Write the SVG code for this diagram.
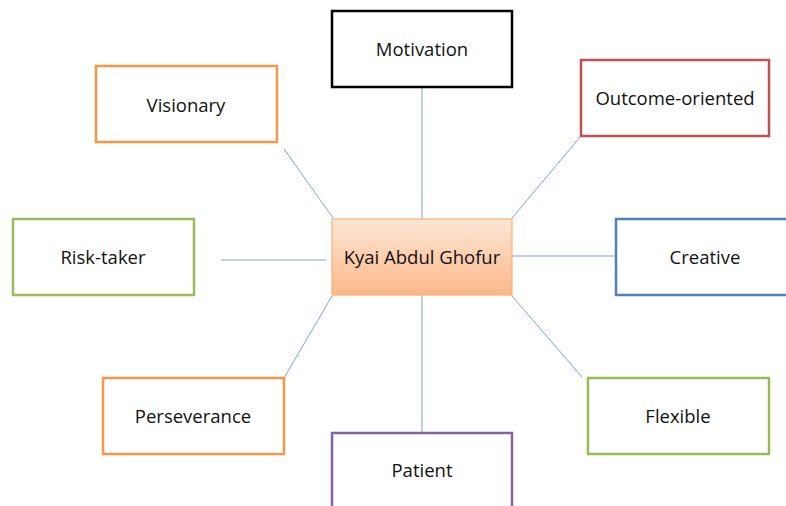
<svg xmlns="http://www.w3.org/2000/svg" width="786" height="506" viewBox="0 0 786 506">
<style>
.box{fill:#fff;stroke-width:2.5}
.lbl{font-family:"Open Sans","Liberation Sans",sans-serif;font-size:18.5px;fill:#111;text-anchor:middle;dominant-baseline:central}
.con line{stroke:#7fa3d6;stroke-width:1}
</style>
<defs>
<linearGradient id="g" x1="0" y1="0" x2="0" y2="1">
<stop offset="0" stop-color="#fde6d6"/>
<stop offset="1" stop-color="#fbb888"/>
</linearGradient>
</defs>
<rect width="786" height="506" fill="#fff"/>
<g id="connectors" class="con">
<line x1="422" y1="87" x2="422" y2="219"/>
<line x1="422" y1="295" x2="422" y2="433"/>
<line x1="221" y1="260" x2="326" y2="260"/>
<line x1="512" y1="256" x2="616" y2="256"/>
<line x1="284" y1="149" x2="333" y2="218"/>
<line x1="581" y1="136" x2="512" y2="218"/>
<line x1="284" y1="378" x2="332" y2="296"/>
<line x1="582" y1="377" x2="512" y2="296"/>
</g>
<g id="center">
<rect x="332" y="219" width="180" height="76" fill="url(#g)" stroke="#f9b07a" stroke-width="1.2"/>
<text class="lbl" x="422" y="256">Kyai Abdul Ghofur</text>
</g>
<g id="motivation">
<rect class="box" x="332" y="11" width="180" height="76" stroke="#000"/>
<text class="lbl" x="422" y="48">Motivation</text>
</g>
<g id="visionary">
<rect class="box" x="96" y="66" width="181" height="76" stroke="#f79646"/>
<text class="lbl" x="186" y="104">Visionary</text>
</g>
<g id="outcome">
<rect class="box" x="581" y="60" width="188" height="76" stroke="#c0504d"/>
<text class="lbl" x="675" y="97">Outcome-oriented</text>
</g>
<g id="risktaker">
<rect class="box" x="13" y="219" width="181" height="76" stroke="#9bbb59"/>
<text class="lbl" x="103" y="256">Risk-taker</text>
</g>
<g id="creative">
<rect class="box" x="616" y="219" width="181" height="76" stroke="#4f81bd"/>
<text class="lbl" x="705" y="256">Creative</text>
</g>
<g id="perseverance">
<rect class="box" x="103" y="378" width="181" height="76" stroke="#f79646"/>
<text class="lbl" x="193" y="415">Perseverance</text>
</g>
<g id="flexible">
<rect class="box" x="588" y="378" width="181" height="76" stroke="#9bbb59"/>
<text class="lbl" x="678" y="415">Flexible</text>
</g>
<g id="patient">
<rect class="box" x="332" y="433" width="180" height="80" stroke="#8064a2"/>
<text class="lbl" x="422" y="469">Patient</text>
</g>
</svg>
